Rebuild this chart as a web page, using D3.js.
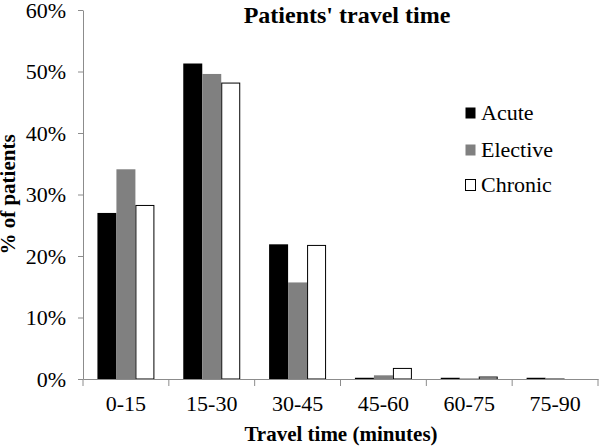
<!DOCTYPE html>
<html><head><meta charset="utf-8">
<script src="https://cdn.jsdelivr.net/npm/d3@7"></script>
<style>body{margin:0;background:#fff}svg{display:block}</style>
</head><body>
<svg id="chart" width="600" height="446" font-family="Liberation Serif"></svg>
<script>
const categories = ["0-15","15-30","30-45","45-60","60-75","75-90"];
const seriesNames = ["Acute","Elective","Chronic"];
const acute    = [27.0, 51.3, 21.9, 0.2, 0.2, 0.2];
const elective = [34.1, 49.6, 15.7, 0.6, 0.1, 0.15];
const chronic  = [28.3, 48.2, 21.8, 1.8, 0.4, 0.0];
const yTicks = [0,10,20,30,40,50,60];
const colors = ["#000000","#808080","#ffffff"];

const W=600,H=446;
const m={left:83,right:2,top:10,bottom:67};
const svg=d3.select("#chart");
const x0=d3.scaleBand().domain(categories).range([m.left,W-m.right]).paddingInner(0).paddingOuter(0);
const x1=d3.scaleBand().domain(seriesNames).range([0,x0.bandwidth()]).paddingOuter(0.76).paddingInner(0);
const y=d3.scaleLinear().domain([0,60]).range([H-m.bottom,m.top]);
const series=[acute,elective,chronic];

series.forEach((vals,si)=>{
  svg.append("g").selectAll("rect").data(vals).join("rect")
    .attr("x",(d,i)=>x0(categories[i])+x1(seriesNames[si])+(si==2?0.5:0))
    .attr("y",d=>y(d)+(si==2?0.5:0))
    .attr("width",x1.bandwidth()-(si==2?1:0))
    .attr("height",d=>Math.max(0,y(0)-y(d)-(si==2?0.5:0)))
    .attr("fill",colors[si])
    .attr("stroke",si==2?"#000":"none")
    .attr("stroke-width",si==2?1:0);
});

const ya=svg.append("g").attr("transform",`translate(${m.left},0)`)
  .call(d3.axisLeft(y).tickValues(yTicks).tickFormat(d=>d+"%").tickSize(5).tickSizeOuter(0));
ya.attr("font-family",null).attr("font-size",22);
ya.select(".domain").attr("stroke","#8c8c8c");
ya.selectAll(".tick line").attr("stroke","#8c8c8c");
ya.selectAll(".tick text").attr("fill","#000").attr("dx",-9).attr("dy","0.34em");

const xa=svg.append("g").attr("transform",`translate(0,${y(0)})`)
  .call(d3.axisBottom(x0).tickSize(0).tickSizeOuter(0));
xa.attr("font-family",null).attr("font-size",22);
xa.select(".domain").attr("stroke","#8c8c8c");
xa.selectAll(".tick text").attr("fill","#000").attr("y",32).attr("dy",0);
const bounds=categories.map(c=>x0(c)).concat([x0(categories[categories.length-1])+x0.bandwidth()]);
xa.append("g").selectAll("line").data(bounds).join("line")
  .attr("x1",d=>d).attr("x2",d=>d).attr("y1",0).attr("y2",7).attr("stroke","#8c8c8c");

svg.append("text").attr("x",347).attr("y",23).attr("text-anchor","middle")
  .attr("font-weight","bold").attr("font-size",24).text("Patients' travel time");
svg.append("text").attr("x",341).attr("y",441).attr("text-anchor","middle")
  .attr("font-weight","bold").attr("font-size",21).text("Travel time (minutes)");
svg.append("text").attr("transform",`translate(15,${(y(0)+y(60))/2}) rotate(-90)`).attr("text-anchor","middle")
  .attr("font-weight","bold").attr("font-size",21).text("% of patients");

const lg=svg.append("g");
const baselines=[120,157,192];
seriesNames.forEach((n,i)=>{
  const b=baselines[i];
  lg.append("rect").attr("x",465.5).attr("y",b-12.5).attr("width",10).attr("height",11)
    .attr("fill",colors[i]).attr("stroke",i==2?"#000":"none");
  lg.append("text").attr("x",481).attr("y",b).attr("font-size",22).text(n);
});
</script>
</body></html>
